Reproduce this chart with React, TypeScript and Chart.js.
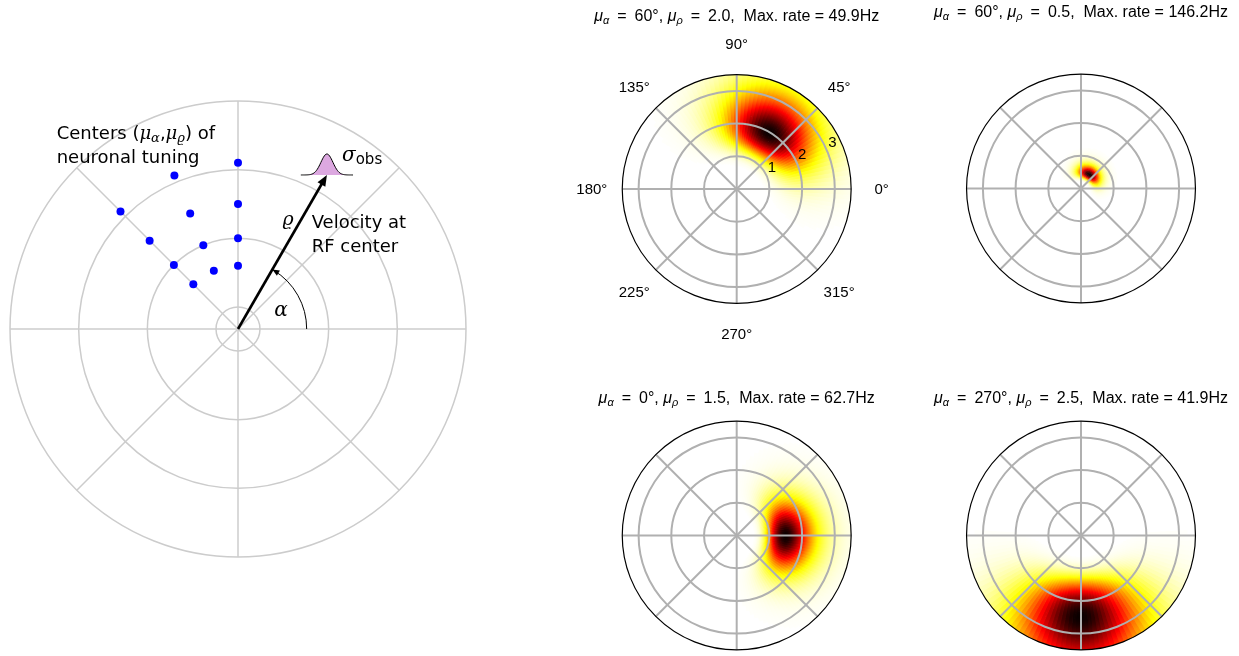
import React, { useEffect, useRef } from "react";
import { Chart, registerables } from "chart.js";
Chart.register(...registerables);

// ---------------- DATA ----------------
// Left panel: centres (mu_alpha, mu_rho) of neuronal tuning
const centerAlphaDeg = [90, 112.5, 135, 90, 112.5, 135, 90, 112.5, 135, 90, 112.5, 135];
const centerRho = [2.1, 2.1, 2.1, 1.5, 1.5, 1.5, 1.0, 1.0, 1.0, 0.6, 0.6, 0.6];
const leftRingTicks = [0, 1, 2, 3];
const leftAngleTicksDeg = [0, 45, 90, 135, 180, 225, 270, 315];
const leftROrigin = -0.32;
const velocityAlphaDeg = [60];
const velocityRho = [2.27];

// Right panels: tuning curves
const panelMuAlphaDeg = [60, 60, 0, 270];
const panelMuRho = [2.0, 0.5, 1.5, 2.5];
const panelMaxRateHz = [49.9, 146.2, 62.7, 41.9];
const panelSigmaAlphaDeg = [27, 28, 27, 28];
const panelSigmaLogRho = [0.33, 0.28, 0.31, 0.4];
const panelRingTicks = [1, 2, 3];
const panelRMax = 3.5;
const panelAngleTicksDeg = [0, 45, 90, 135, 180, 225, 270, 315];
const panelAngleLabels = ["0°", "45°", "90°", "135°", "180°", "225°", "270°", "315°"];

// ---------------- LAYOUT ----------------
const LEFT = { l: 0, t: 0, w: 476, h: 656, cx: 238, cy: 329, ppu: 68.67 };
const PANELS = [
  { l: 560, t: 0, w: 340, h: 345, cx: 736.7, cy: 189, ppu: 32.7, titleY: 20.5 },
  { l: 905, t: 0, w: 334, h: 345, cx: 1081, cy: 188.5, ppu: 32.7, titleY: 17 },
  { l: 560, t: 345, w: 340, h: 311, cx: 736.7, cy: 535.5, ppu: 32.7, titleY: 403 },
  { l: 905, t: 345, w: 334, h: 311, cx: 1081, cy: 535.5, ppu: 32.7, titleY: 403 },
];

const SANS = '"Liberation Sans", Arial, sans-serif';
const DSANS = '"DejaVu Sans", sans-serif';
const DSERIF = '"DejaVu Serif", serif';
const EQ = "\u2002=\u2002";

function rangesFor(r: any) {
  return {
    xmin: (r.l - r.cx) / r.ppu,
    xmax: (r.l + r.w - r.cx) / r.ppu,
    ymax: (r.cy - r.t) / r.ppu,
    ymin: (r.cy - r.t - r.h) / r.ppu,
  };
}

// matplotlib "hot" reversed
function hotR(v: number) {
  const x = 1 - v;
  const r = x < 0.365079 ? 0.0416 + (1 - 0.0416) * (x / 0.365079) : 1;
  const g = x < 0.365079 ? 0 : x < 0.746032 ? (x - 0.365079) / (0.746032 - 0.365079) : 1;
  const b = x < 0.746032 ? 0 : (x - 0.746032) / (1 - 0.746032);
  return `rgb(${Math.round(r * 255)},${Math.round(g * 255)},${Math.round(b * 255)})`;
}

type Seg = { t: string; font: string; dy?: number };
function drawRich(ctx: CanvasRenderingContext2D, segs: Seg[], x: number, y: number, align: "left" | "center") {
  ctx.textAlign = "left";
  ctx.textBaseline = "alphabetic";
  let total = 0;
  for (const s of segs) {
    ctx.font = s.font;
    total += ctx.measureText(s.t).width;
  }
  let px = align === "center" ? x - total / 2 : x;
  for (const s of segs) {
    ctx.font = s.font;
    ctx.fillText(s.t, px, y + (s.dy || 0));
    px += ctx.measureText(s.t).width;
  }
}

const D2R = Math.PI / 180;

function scaleHelpers(chart: any) {
  const xs = chart.scales.x;
  const ys = chart.scales.y;
  const cx = xs.getPixelForValue(0);
  const cy = ys.getPixelForValue(0);
  const rp = (r: number) => xs.getPixelForValue(r) - cx;
  const P = (r: number, deg: number) => [xs.getPixelForValue(r * Math.cos(deg * D2R)), ys.getPixelForValue(r * Math.sin(deg * D2R))];
  const U = (ux: number, uy: number) => [xs.getPixelForValue(ux), ys.getPixelForValue(uy)];
  return { xs, ys, cx, cy, rp, P, U };
}

// ---------------- LEFT PANEL PLUGIN ----------------
const leftPlugin = {
  id: "leftPolar",
  beforeDatasetsDraw(chart: any) {
    const ctx: CanvasRenderingContext2D = chart.ctx;
    const { cx, cy, rp, P } = scaleHelpers(chart);
    ctx.save();
    ctx.strokeStyle = "#cccccc";
    ctx.lineWidth = 1.5;
    const rOuter = leftRingTicks[leftRingTicks.length - 1] - leftROrigin;
    for (const v of leftRingTicks) {
      ctx.beginPath();
      ctx.arc(cx, cy, rp(v - leftROrigin), 0, Math.PI * 2);
      ctx.stroke();
    }
    for (const a of leftAngleTicksDeg) {
      const [x1, y1] = P(rOuter, a);
      ctx.beginPath();
      ctx.moveTo(cx, cy);
      ctx.lineTo(x1, y1);
      ctx.stroke();
    }
    ctx.restore();
  },
  afterDatasetsDraw(chart: any) {
    const ctx: CanvasRenderingContext2D = chart.ctx;
    const { cx, cy, rp, P, U } = scaleHelpers(chart);
    ctx.save();
    // velocity arrow
    const va = velocityAlphaDeg[0];
    const vr = velocityRho[0] - leftROrigin;
    const [tx, ty] = P(vr, va);
    const ang = Math.atan2(ty - cy, tx - cx);
    ctx.strokeStyle = "#000";
    ctx.fillStyle = "#000";
    ctx.lineWidth = 2.6;
    const hl = 11, hw = 4.5;
    ctx.beginPath();
    ctx.moveTo(cx, cy);
    ctx.lineTo(tx - (hl - 2) * Math.cos(ang), ty - (hl - 2) * Math.sin(ang));
    ctx.stroke();
    ctx.beginPath();
    ctx.moveTo(tx, ty);
    ctx.lineTo(tx - hl * Math.cos(ang) + hw * Math.sin(ang), ty - hl * Math.sin(ang) - hw * Math.cos(ang));
    ctx.lineTo(tx - hl * Math.cos(ang) - hw * Math.sin(ang), ty - hl * Math.sin(ang) + hw * Math.cos(ang));
    ctx.closePath();
    ctx.fill();

    // alpha arc
    const ra = rp(1.0);
    ctx.lineWidth = 1;
    ctx.beginPath();
    ctx.arc(cx, cy, ra, -va * D2R + 0.02, 0, false);
    ctx.stroke();
    const ex = cx + ra * Math.cos(-va * D2R);
    const ey = cy + ra * Math.sin(-va * D2R);
    const td = -va * D2R - Math.PI / 2;
    const dx = Math.cos(td), dy = Math.sin(td);
    ctx.beginPath();
    ctx.moveTo(ex - 7 * dx - 3 * dy, ey - 7 * dy + 3 * dx);
    ctx.lineTo(ex, ey);
    ctx.lineTo(ex - 7 * dx + 3 * dy, ey - 7 * dy - 3 * dx);
    ctx.closePath();
    ctx.fill();

    // sigma_obs bump at arrow tip
    const sig = rp(0.087);
    const h = rp(0.306);
    const half = rp(0.38);
    const bump = () => {
      ctx.beginPath();
      for (let i = 0; i <= 60; i++) {
        const ox = -half + (2 * half * i) / 60;
        const y = ty - h * Math.exp(-(ox * ox) / (2 * sig * sig));
        if (i === 0) ctx.moveTo(tx + ox, y);
        else ctx.lineTo(tx + ox, y);
      }
    };
    bump();
    ctx.closePath();
    ctx.fillStyle = "#dca8e0";
    ctx.fill();
    bump();
    ctx.strokeStyle = "#000";
    ctx.lineWidth = 1;
    ctx.stroke();

    // texts
    ctx.fillStyle = "#000";
    const [l1x, l1y] = U(-2.64, 2.763);
    drawRich(ctx, [
      { t: "Centers (", font: `18px ${DSANS}` },
      { t: "μ", font: `italic 18px ${DSERIF}` },
      { t: "α", font: `italic 13px ${DSERIF}`, dy: 3 },
      { t: ",", font: `18px ${DSANS}` },
      { t: "μ", font: `italic 18px ${DSERIF}` },
      { t: "ϱ", font: `italic 13px ${DSERIF}`, dy: 3 },
      { t: ") of", font: `18px ${DSANS}` },
    ], l1x, l1y, "left");
    const [l2x, l2y] = U(-2.64, 2.422);
    drawRich(ctx, [{ t: "neuronal tuning", font: `18px ${DSANS}` }], l2x, l2y, "left");
    const [v1x, v1y] = U(1.073, 1.466);
    drawRich(ctx, [{ t: "Velocity at", font: `18px ${DSANS}` }], v1x, v1y, "left");
    const [v2x, v2y] = U(1.073, 1.117);
    drawRich(ctx, [{ t: "RF center", font: `18px ${DSANS}` }], v2x, v2y, "left");
    const [rx, ry] = U(0.728, 1.52);
    drawRich(ctx, [{ t: "ϱ", font: `italic 19px ${DSERIF}` }], rx, ry, "center");
    const [ax, ay] = U(0.626, 0.19);
    drawRich(ctx, [{ t: "α", font: `italic 20px ${DSERIF}` }], ax, ay, "center");
    const [sx, sy] = U(1.515, 2.44);
    drawRich(ctx, [
      { t: "σ", font: `italic 20px ${DSERIF}` },
      { t: "obs", font: `15px ${DSANS}`, dy: 3 },
    ], sx, sy, "left");
    ctx.restore();
  },
};

// ---------------- RIGHT PANEL PLUGIN ----------------
function makePanelPlugin(i: number) {
  return {
    id: "panel" + i,
    beforeDatasetsDraw(chart: any) {
      const ctx: CanvasRenderingContext2D = chart.ctx;
      const { cx, cy, rp, P } = scaleHelpers(chart);
      const Rm = rp(panelRMax);
      ctx.save();
      // heat map cells
      ctx.save();
      ctx.beginPath();
      ctx.arc(cx, cy, Rm, 0, Math.PI * 2);
      ctx.clip();
      const mu = panelMuAlphaDeg[i];
      const muR = panelMuRho[i];
      const sa = panelSigmaAlphaDeg[i];
      const sr = panelSigmaLogRho[i];
      const nA = 144;
      const nR = 110;
      const dA = 360 / nA;
      const dR = panelRMax / nR;
      for (let a = 0; a < nA; a++) {
        const a0 = a * dA;
        const a1 = a0 + dA;
        const am = a0 + dA / 2;
        const d = ((am - mu + 540) % 360) - 180;
        const fa = Math.exp(-(d * d) / (2 * sa * sa));
        if (fa < 0.003) continue;
        for (let j = 0; j < nR; j++) {
          const r0 = j * dR;
          const r1 = r0 + dR;
          const rm = r0 + dR / 2;
          const l = Math.log(rm / muR);
          const v = fa * Math.exp(-(l * l) / (2 * sr * sr));
          if (v < 0.004) continue;
          ctx.fillStyle = hotR(Math.min(1, v));
          const t0 = -(a1 + 0.35) * D2R;
          const t1 = -(a0 - 0.35) * D2R;
          ctx.beginPath();
          ctx.arc(cx, cy, rp(r1) + 0.5, t0, t1, false);
          ctx.arc(cx, cy, Math.max(0, rp(r0) - 0.3), t1, t0, true);
          ctx.closePath();
          ctx.fill();
        }
      }
      ctx.restore();

      // grid
      ctx.strokeStyle = "#b0b0b0";
      ctx.lineWidth = 2;
      for (const r of panelRingTicks) {
        ctx.beginPath();
        ctx.arc(cx, cy, rp(r), 0, Math.PI * 2);
        ctx.stroke();
      }
      for (const a of panelAngleTicksDeg) {
        const [x1, y1] = P(panelRMax, a);
        ctx.beginPath();
        ctx.moveTo(cx, cy);
        ctx.lineTo(x1, y1);
        ctx.stroke();
      }
      // outer spine
      ctx.strokeStyle = "#000";
      ctx.lineWidth = 1.2;
      ctx.beginPath();
      ctx.arc(cx, cy, Rm, 0, Math.PI * 2);
      ctx.stroke();

      ctx.fillStyle = "#000";
      if (i === 0) {
        ctx.font = `15px ${SANS}`;
        ctx.textAlign = "center";
        ctx.textBaseline = "middle";
        panelAngleTicksDeg.forEach((a, k) => {
          const [x, y] = P(4.43, a);
          ctx.fillText(panelAngleLabels[k], x, y + 1);
        });
        for (const r of panelRingTicks) {
          const [x, y] = P(r, 22.5);
          ctx.fillText(String(r), x + 5, y - 9);
        }
      }
      // title
      const pan = PANELS[i];
      const ty = pan.titleY - pan.t;
      drawRich(ctx, [
        { t: "μ", font: `italic 16px ${SANS}` },
        { t: "α", font: `italic 11px ${SANS}`, dy: 3 },
        { t: `${EQ}${panelMuAlphaDeg[i]}°, `, font: `16px ${SANS}` },
        { t: "μ", font: `italic 16px ${SANS}` },
        { t: "ρ", font: `italic 11px ${SANS}`, dy: 3 },
        { t: `${EQ}${panelMuRho[i].toFixed(1)},  Max. rate = ${panelMaxRateHz[i].toFixed(1)}Hz`, font: `16px ${SANS}` },
      ], cx, ty, "center");
      ctx.restore();
    },
  };
}

function baseOptions(rg: any) {
  return {
    responsive: false,
    maintainAspectRatio: false,
    animation: false as const,
    devicePixelRatio: 1,
    layout: { padding: 0, autoPadding: false },
    plugins: { legend: { display: false }, tooltip: { enabled: false }, title: { display: false } },
    events: [] as any[],
    scales: {
      x: { type: "linear" as const, display: false, min: rg.xmin, max: rg.xmax },
      y: { type: "linear" as const, display: false, min: rg.ymin, max: rg.ymax },
    },
  };
}

export default function App() {
  const r0 = useRef<HTMLCanvasElement>(null);
  const r1 = useRef<HTMLCanvasElement>(null);
  const r2 = useRef<HTMLCanvasElement>(null);
  const r3 = useRef<HTMLCanvasElement>(null);
  const r4 = useRef<HTMLCanvasElement>(null);
  const panelRefs = [r1, r2, r3, r4];

  useEffect(() => {
    const charts: Chart[] = [];
    const dots = centerAlphaDeg.map((a, k) => {
      const r = centerRho[k] - leftROrigin;
      return { x: r * Math.cos(a * D2R), y: r * Math.sin(a * D2R) };
    });
    charts.push(
      new Chart(r0.current as HTMLCanvasElement, {
        type: "scatter",
        data: {
          datasets: [
            {
              data: dots,
              pointRadius: 4,
              pointBackgroundColor: "#0000ff",
              pointBorderWidth: 0,
              borderWidth: 0,
            } as any,
          ],
        },
        options: baseOptions(rangesFor(LEFT)) as any,
        plugins: [leftPlugin],
      })
    );
    PANELS.forEach((p, i) => {
      charts.push(
        new Chart(panelRefs[i].current as HTMLCanvasElement, {
          type: "scatter",
          data: { datasets: [{ data: [], pointRadius: 0 } as any] },
          options: baseOptions(rangesFor(p)) as any,
          plugins: [makePanelPlugin(i)],
        })
      );
    });
    return () => charts.forEach((c) => c.destroy());
  }, []);

  const rects = [LEFT, ...PANELS];
  const refs = [r0, ...panelRefs];
  return (
    <div style={{ position: "fixed", left: 0, top: 0, width: 1239, height: 656, background: "#fff", overflow: "hidden" }}>
      {rects.map((r, k) => (
        <canvas
          key={k}
          ref={refs[k]}
          width={r.w}
          height={r.h}
          style={{ position: "absolute", left: r.l, top: r.t, width: r.w, height: r.h }}
        />
      ))}
    </div>
  );
}
